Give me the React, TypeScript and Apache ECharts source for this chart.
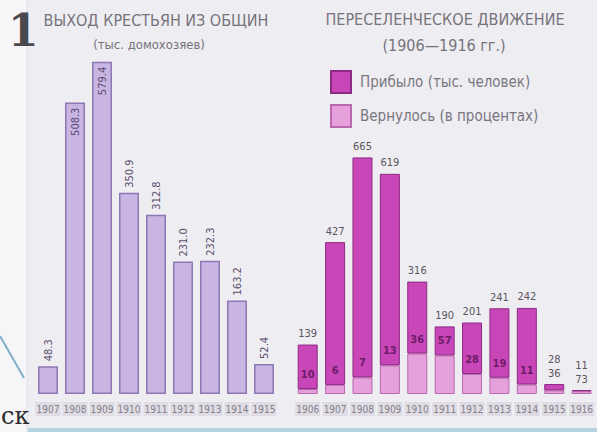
import React, { useEffect, useRef } from "react";
import * as echarts from "echarts";

const leftYears = ["1907", "1908", "1909", "1910", "1911", "1912", "1913", "1914", "1915"];
const leftValues = [48.3, 508.3, 579.4, 350.9, 312.8, 231.0, 232.3, 163.2, 52.4];
const leftInside = [false, true, true, false, false, false, false, false, false];

const rightYears = ["1906", "1907", "1908", "1909", "1910", "1911", "1912", "1913", "1914", "1915", "1916"];
const arrived = [139, 427, 665, 619, 316, 190, 201, 241, 242, 28, 11];
const returnedPct = [10, 6, 7, 13, 36, 57, 28, 19, 11, 36, 73];
const labelsAbove = [false, false, false, false, false, false, false, false, false, true, true];

const FONT = "'DejaVu Sans Condensed', 'Liberation Sans Narrow', sans-serif";

export default function App() {
  const ref = useRef<HTMLDivElement>(null);
  useEffect(() => {
    if (!ref.current) return;
    const chart = echarts.init(ref.current, null, { renderer: "svg" });

    const returnedVals = arrived.map((a, i) => (a * returnedPct[i]) / 100);
    const remainingVals = arrived.map((a, i) => a - returnedVals[i]);

    const leftData = leftValues.map((v, i) => ({
      value: v,
      label: leftInside[i]
        ? { position: "insideTop", align: "right", distance: 5 }
        : { position: "top", align: "left", distance: 5 },
    }));

    const lightData = returnedVals.map((v, i) => ({
      value: v,
      label: { show: !labelsAbove[i] },
    }));

    const darkData = remainingVals.map((v, i) => ({
      value: v,
      label: {
        formatter: labelsAbove[i] ? `${arrived[i]}\n${returnedPct[i]}` : `${arrived[i]}`,
      },
    }));

    const yearLabel = {
      fontFamily: FONT,
      fontSize: 10,
      color: "#85808c",
      backgroundColor: "#dfdce4",
      padding: [2, 1],
      margin: 8,
      interval: 0,
    };

    chart.setOption({
      animation: false,
      backgroundColor: "#eeedf1",
      legend: {
        orient: "vertical",
        left: 325,
        top: 65,
        itemWidth: 20,
        itemHeight: 22,
        itemGap: 10,
        icon: "rect",
        data: ["Прибыло (тыс. человек)", "Вернулось (в процентах)"],
        textStyle: { fontFamily: FONT, fontSize: 15, color: "#7a7680", padding: [0, 0, 0, 4] },
      },
      grid: [
        { left: 34.5, width: 243, top: 50, bottom: 38 },
        { left: 294, width: 302.5, top: 145, bottom: 38 },
      ],
      xAxis: [
        {
          type: "category",
          gridIndex: 0,
          data: leftYears,
          axisLine: { show: false },
          axisTick: { show: false },
          axisLabel: yearLabel,
        },
        {
          type: "category",
          gridIndex: 1,
          data: rightYears,
          axisLine: { show: false },
          axisTick: { show: false },
          axisLabel: yearLabel,
        },
      ],
      yAxis: [
        { type: "value", gridIndex: 0, min: 0, max: 600, show: false },
        { type: "value", gridIndex: 1, min: 0, max: 700, show: false },
      ],
      series: [
        {
          type: "bar",
          xAxisIndex: 0,
          yAxisIndex: 0,
          barWidth: 20,
          data: leftData,
          itemStyle: { color: "#c9b5e4", borderColor: "#8e78b4", borderWidth: 1.5 },
          label: {
            show: true,
            rotate: 90,
            verticalAlign: "middle",
            fontFamily: FONT,
            fontSize: 11,
            color: "#5a4d70",
            formatter: (p: any) => Number(p.value).toFixed(1),
          },
        },
        {
          name: "Вернулось (в процентах)",
          type: "bar",
          stack: "r",
          xAxisIndex: 1,
          yAxisIndex: 1,
          barWidth: 20,
          data: lightData,
          itemStyle: { color: "#e6a0dc", borderColor: "#b868ae", borderWidth: 1 },
          label: {
            position: "top",
            distance: 9,
            fontFamily: FONT,
            fontSize: 11,
            fontWeight: "bold",
            color: "#6e1c68",
            formatter: (p: any) => `${returnedPct[p.dataIndex]}`,
          },
        },
        {
          name: "Прибыло (тыс. человек)",
          type: "bar",
          stack: "r",
          xAxisIndex: 1,
          yAxisIndex: 1,
          barWidth: 20,
          data: darkData,
          itemStyle: { color: "#c946b8", borderColor: "#8c2a84", borderWidth: 1 },
          label: {
            show: true,
            position: "top",
            distance: 4,
            fontFamily: FONT,
            fontSize: 11,
            lineHeight: 14,
            color: "#5a5560",
          },
        },
      ],
      graphic: [
        { type: "rect", shape: { x: 0, y: 0, width: 27, height: 432 }, style: { fill: "#f6f6f8" }, silent: true },
        { type: "line", shape: { x1: 27, y1: 0, x2: 27, y2: 432 }, style: { stroke: "#e2e0e6", lineWidth: 1 } },
        { type: "line", shape: { x1: 0, y1: 336, x2: 24, y2: 378 }, style: { stroke: "#7fb0c8", lineWidth: 2 } },
        {
          type: "text",
          x: 8,
          y: 8,
          style: { text: "1", font: "bold 44px 'DejaVu Serif', serif", fill: "#4a4a4e" },
        },
        {
          type: "text",
          x: 1,
          y: 404,
          style: { text: "ск", font: "24px 'DejaVu Serif', serif", fill: "#2a2a2e" },
        },
        { type: "rect", shape: { x: 28, y: 428, width: 569, height: 4 }, style: { fill: "#b4d2e2" } },
        {
          type: "text",
          x: 156,
          y: 20,
          style: {
            text: "ВЫХОД КРЕСТЬЯН ИЗ ОБЩИН",
            align: "center",
            verticalAlign: "middle",
            font: `16px ${FONT}`,
            fill: "#77737c",
          },
        },
        {
          type: "text",
          x: 149,
          y: 44,
          style: {
            text: "(тыс. домохозяев)",
            align: "center",
            verticalAlign: "middle",
            font: `13px ${FONT}`,
            fill: "#77737c",
          },
        },
        {
          type: "text",
          x: 445,
          y: 19,
          style: {
            text: "ПЕРЕСЕЛЕНЧЕСКОЕ ДВИЖЕНИЕ",
            align: "center",
            verticalAlign: "middle",
            font: `16px ${FONT}`,
            fill: "#77737c",
          },
        },
        {
          type: "text",
          x: 444,
          y: 45,
          style: {
            text: "(1906—1916 гг.)",
            align: "center",
            verticalAlign: "middle",
            font: `16px ${FONT}`,
            fill: "#77737c",
          },
        },
      ],
    });
    return () => chart.dispose();
  }, []);
  return (
    <div
      ref={ref}
      style={{ position: "fixed", left: 0, top: 0, width: 597, height: 432 }}
    />
  );
}
